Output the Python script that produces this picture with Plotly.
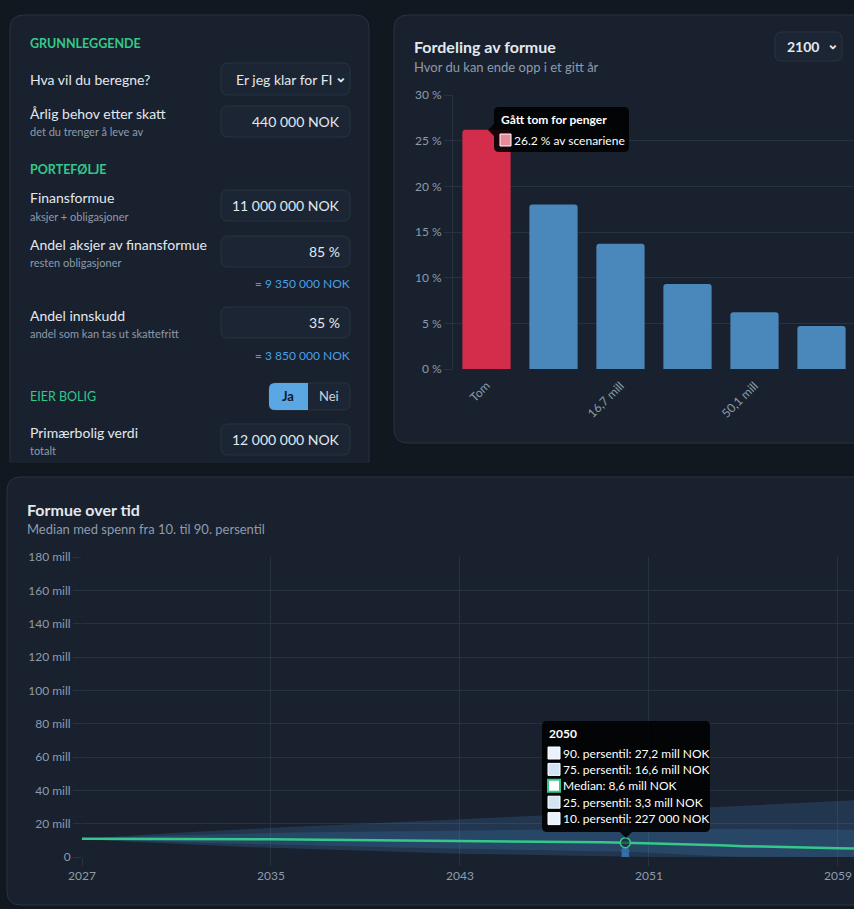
import plotly.graph_objects as go

W, H = 854, 909

# ---- data: wealth distribution (top-right) ----
bins = ["Tom", "0,0 mill", "16,7 mill", "33,4 mill", "50,1 mill", "66,8 mill"]
shares = [26.2, 18.0, 13.7, 9.3, 6.2, 4.7]
bin_ticks = ["Tom", "16,7 mill", "50,1 mill"]
pct_ticks = [0, 5, 10, 15, 20, 25, 30]

# ---- data: wealth over time (bottom), mill NOK ----
years = list(range(2027, 2061))
p90 = [11.0, 12.0, 12.9, 13.7, 14.5, 15.3, 16.0, 16.7, 17.6, 18.2, 18.8, 19.4, 20.0, 20.6, 21.2,
       21.8, 22.5, 23.2, 23.9, 24.6, 25.3, 26.0, 26.6, 27.2, 27.9, 28.6, 29.3, 30.0, 30.7, 31.4,
       32.1, 32.8, 33.5, 34.2]
p75 = [11.0, 11.6, 12.1, 12.6, 13.0, 13.4, 13.8, 14.1, 14.4, 14.7, 14.9, 15.1, 15.3, 15.5, 15.7,
       15.9, 16.0, 16.1, 16.2, 16.3, 16.4, 16.5, 16.55, 16.6, 16.7, 16.8, 16.9, 16.9, 16.8, 16.7,
       16.6, 16.5, 16.4, 16.3]
p50 = [11.0, 11.0, 11.0, 10.9, 10.9, 10.8, 10.8, 10.7, 10.6, 10.5, 10.4, 10.3, 10.2, 10.1, 10.0,
       9.8, 9.7, 9.5, 9.4, 9.2, 9.1, 8.9, 8.8, 8.6, 8.3, 7.9, 7.4, 7.0, 6.5, 6.1, 5.8, 5.5, 5.3, 5.1]
p25 = [11.0, 10.4, 9.9, 9.4, 9.0, 8.6, 8.2, 7.8, 7.4, 7.0, 6.7, 6.4, 6.1, 5.8, 5.5, 5.2, 4.9,
       4.6, 4.4, 4.1, 3.9, 3.7, 3.5, 3.3, 2.5, 1.7, 1.0, 0.5, 0.2, 0.0, 0.0, 0.0, 0.0, 0.0]
p10 = [11.0, 10.0, 9.2, 8.5, 7.8, 7.2, 6.6, 6.0, 5.5, 5.0, 4.5, 4.0, 3.6, 3.2, 2.8, 2.4, 2.0,
       1.7, 1.4, 1.1, 0.8, 0.6, 0.4, 0.227, 0.0, 0.0, 0.0, 0.0, 0.0, 0.0, 0.0, 0.0, 0.0, 0.0]
year_ticks = [2027, 2035, 2043, 2051, 2059]
mill_ticks = [0, 20, 40, 60, 80, 100, 120, 140, 160, 180]
hover_year = 2050

FONT = "Segoe UI, Lato, sans-serif"
PAGE = "#111820"
PANEL = "#18212d"
BORDER = "#283443"
INPUT = "#1b2533"
GRID = "#263240"
TXT = "#e3e8ef"
SUB = "#8e9bad"
GREEN = "#34c98a"
BLUE_TXT = "#4a9fe8"
RED = "#d32d4b"
BLUE = "#4a88bb"


def px(x):
    return x / W


def py(y):
    return 1 - y / H


def rrect(x0, y0, x1, y1, r, flat_bottom=False):
    pts = lambda x, y: f"{px(x):.5f},{py(y):.5f}"
    p = f"M {pts(x0 + r, y0)} L {pts(x1 - r, y0)} Q {pts(x1, y0)} {pts(x1, y0 + r)} "
    if flat_bottom:
        p += f"L {pts(x1, y1)} L {pts(x0, y1)} "
    else:
        p += (f"L {pts(x1, y1 - r)} Q {pts(x1, y1)} {pts(x1 - r, y1)} "
              f"L {pts(x0 + r, y1)} Q {pts(x0, y1)} {pts(x0, y1 - r)} ")
    p += f"L {pts(x0, y0 + r)} Q {pts(x0, y0)} {pts(x0 + r, y0)} Z"
    return p


shapes = []
annos = []


def box(x0, y0, x1, y1, r, fill, line=None, flat_bottom=False, layer="below", lw=1):
    shapes.append(dict(type="path", xref="paper", yref="paper", path=rrect(x0, y0, x1, y1, r, flat_bottom),
                       fillcolor=fill, line=dict(color=line or fill, width=lw if line else 0), layer=layer))


def txt(x, y, s, size=14, color=TXT, anchor="left", bold=False):
    if bold:
        s = f"<b>{s}</b>"
    annos.append(dict(x=px(x), y=py(y), xref="paper", yref="paper", text=s, showarrow=False,
                      xanchor=anchor, yanchor="middle", borderpad=0,
                      font=dict(family=FONT, size=size, color=color)))


# ---- panels ----
box(10, 15, 369, 462, 14, PANEL, BORDER, flat_bottom=True)
# hide the bottom border line of the clipped form panel
shapes.append(dict(type="rect", xref="paper", yref="paper", x0=px(11), x1=px(368), y0=py(463), y1=py(461),
                   fillcolor=PANEL, line=dict(width=0)))
box(394, 15, 880, 443, 14, PANEL, BORDER)
box(7, 477, 880, 905, 14, PANEL, BORDER)

# ---- left form panel ----
txt(29, 44, "GRUNNLEGGENDE", 12.5, GREEN, bold=True)
txt(29, 79, "Hva vil du beregne?", 14)
box(221, 63, 350, 95, 7, INPUT, BORDER)
txt(235, 79, "Er jeg klar for FI", 14)
shapes.append(dict(type="rect", xref="paper", yref="paper", x0=px(326), x1=px(336), y0=py(66), y1=py(92),
                   fillcolor=INPUT, line=dict(width=0)))
txt(341, 77, "⌄", 14, TXT, anchor="center", bold=True)

fields = [
    ("Årlig behov etter skatt", "det du trenger å leve av", "440 000 NOK", 106, None),
    ("Finansformue", "aksjer + obligasjoner", "11 000 000 NOK", 190, None),
    ("Andel aksjer av finansformue", "resten obligasjoner", "85 %", 236, "= 9 350 000 NOK"),
    ("Andel innskudd", "andel som kan tas ut skattefritt", "35 %", 307, "= 3 850 000 NOK"),
    ("Primærbolig verdi", "totalt", "12 000 000 NOK", 424, None),
]
for label, hint, value, top, extra in fields:
    txt(29, top + 8, label, 14)
    txt(29, top + 26, hint, 11, SUB)
    box(221, top, 350, top + 31, 7, INPUT, BORDER)
    txt(341, top + 15.5, value, 14, TXT, anchor="right")
    if extra:
        txt(351, top + 48, extra, 12, BLUE_TXT, anchor="right")

txt(29, 169, "PORTEFØLJE", 12.5, GREEN, bold=True)
txt(29, 397, "EIER BOLIG", 12.5, GREEN)
box(269, 383, 350, 410, 6, INPUT, BORDER)
box(269, 383, 308, 410, 6, "#5aa7e4")
shapes.append(dict(type="rect", xref="paper", yref="paper", x0=px(300), x1=px(308), y0=py(383), y1=py(410),
                   fillcolor="#5aa7e4", line=dict(width=0)))
txt(288, 396, "Ja", 13, "#0f1a26", anchor="center", bold=True)
txt(329, 396, "Nei", 13, "#c9d2dd", anchor="center")

# ---- top-right panel header ----
txt(413, 46, "Fordeling av formue", 16, TXT, bold=True)
txt(413, 67, "Hvor du kan ende opp i et gitt år", 13, SUB)
box(775, 32, 842, 61, 7, INPUT, BORDER)
txt(803, 46, "2100", 14, TXT, anchor="center", bold=True)
txt(833, 44, "⌄", 14, TXT, anchor="center", bold=True)

# bar tooltip
box(494, 107, 629, 152, 5, "rgba(0,0,0,0.88)", layer="above")
shapes.append(dict(type="path", xref="paper", yref="paper", layer="above",
                   path=f"M {px(494)},{py(124)} L {px(488)},{py(130)} L {px(494)},{py(136)} Z",
                   fillcolor="rgba(0,0,0,0.88)", line=dict(width=0)))
shapes.append(dict(type="rect", xref="paper", yref="paper", layer="above", x0=px(500), x1=px(511),
                   y0=py(134), y1=py(146), fillcolor="#e8899c", line=dict(color="#ffffff", width=1)))
txt(500, 119, "Gått tom for penger", 12, "#ffffff", bold=True)
txt(513, 140, f"{shares[0]} % av scenariene", 12, "#ffffff")

# ---- bottom panel header ----
txt(26, 509, "Formue over tid", 16, TXT, bold=True)
txt(26, 529, "Median med spenn fra 10. til 90. persentil", 13, SUB)

# line tooltip
box(542, 721, 710, 832, 5, "rgba(0,0,0,0.88)", layer="above")
shapes.append(dict(type="path", xref="paper", yref="paper", layer="above",
                   path=f"M {px(620)},{py(832)} L {px(626)},{py(838)} L {px(632)},{py(832)} Z",
                   fillcolor="rgba(0,0,0,0.88)", line=dict(width=0)))
hi = years.index(hover_year)


def mill(v):
    if v < 1:
        return f"{int(round(v * 1000)):,} 000 NOK".replace(",", " ")
    return f"{v:.1f}".replace(".", ",") + " mill NOK"


rows = [("90. persentil", p90[hi], "#e9f1fb", "#ffffff"),
        ("75. persentil", p75[hi], "#d3e3f4", "#ffffff"),
        ("Median", p50[hi], "#ffffff", GREEN),
        ("25. persentil", p25[hi], "#d3e3f4", "#ffffff"),
        ("10. persentil", p10[hi], "#e9f1fb", "#ffffff")]
txt(548, 733, str(hover_year), 12, "#ffffff", bold=True)
for i, (name, v, fc, lc) in enumerate(rows):
    yc = 753 + i * 16.4
    shapes.append(dict(type="rect", xref="paper", yref="paper", layer="above", x0=px(548), x1=px(560),
                       y0=py(yc - 6), y1=py(yc + 6), fillcolor=fc,
                       line=dict(color=lc, width=2 if name == "Median" else 1)))
    txt(562, yc, f"{name}: {mill(v)}", 12, "#ffffff")

# ---- traces ----
fig = go.Figure()
fig.add_trace(go.Bar(x=bins, y=shares, xaxis="x", yaxis="y",
                     marker=dict(color=[RED if b == "Tom" else BLUE for b in bins], cornerradius=3,
                                 line=dict(width=0))))

band_outer = "rgba(74,144,217,0.20)"
band_inner = "rgba(74,144,217,0.18)"
fig.add_trace(go.Scatter(x=years, y=p10, xaxis="x2", yaxis="y2", mode="lines", line=dict(width=0)))
fig.add_trace(go.Scatter(x=years, y=p90, xaxis="x2", yaxis="y2", mode="lines", line=dict(width=0),
                         fill="tonexty", fillcolor=band_outer))
fig.add_trace(go.Scatter(x=years, y=p25, xaxis="x2", yaxis="y2", mode="lines", line=dict(width=0)))
fig.add_trace(go.Scatter(x=years, y=p75, xaxis="x2", yaxis="y2", mode="lines", line=dict(width=0),
                         fill="tonexty", fillcolor=band_inner))
fig.add_trace(go.Scatter(x=years, y=p50, xaxis="x2", yaxis="y2", mode="lines",
                         line=dict(color=GREEN, width=2.5)))
fig.add_trace(go.Scatter(x=[hover_year] * 4, y=[p90[hi], p75[hi], p25[hi], p10[hi]], xaxis="x2", yaxis="y2",
                         mode="markers", marker=dict(size=8, color="rgba(55,115,180,0.85)")))
fig.add_trace(go.Scatter(x=[hover_year], y=[p50[hi]], xaxis="x2", yaxis="y2", mode="markers",
                         marker=dict(size=10, color="rgba(24,33,45,0.6)", line=dict(color=GREEN, width=1.5))))

tickfont = dict(family=FONT, size=12, color=SUB)
fig.update_layout(
    width=W, height=H, margin=dict(l=0, r=0, t=0, b=0, pad=0), autosize=False,
    paper_bgcolor=PAGE, plot_bgcolor="rgba(0,0,0,0)",
    showlegend=False, hovermode=False, bargap=0.28,
    shapes=shapes, annotations=annos,
    xaxis=dict(domain=[px(453), 1.0], range=[-0.5, 5.485], type="category", tickvals=bin_ticks,
               tickangle=-45, tickfont=tickfont, showgrid=False, zeroline=False, showline=False,
               ticks="outside", ticklen=4, tickcolor="rgba(0,0,0,0)", anchor="y", fixedrange=True,
               automargin=False),
    yaxis=dict(domain=[py(369), py(95)], range=[0, 30], tickvals=pct_ticks,
               ticktext=[f"{t} %" for t in pct_ticks], tickfont=tickfont, gridcolor=GRID, zeroline=False,
               showline=True, linecolor=GRID, ticks="outside", ticklen=8, tickcolor=GRID, anchor="x",
               fixedrange=True, automargin=False),
    xaxis2=dict(domain=[px(82), 1.0], range=[2027, 2059.68], tickvals=year_ticks, tickfont=tickfont,
                gridcolor=GRID, zeroline=False, showline=False, ticks="outside", ticklen=8, tickcolor=GRID,
                anchor="y2", fixedrange=True, automargin=False),
    yaxis2=dict(domain=[py(857), py(557)], range=[0, 180], tickvals=mill_ticks,
                ticktext=["0" if t == 0 else f"{t} mill" for t in mill_ticks], tickfont=tickfont,
                gridcolor=GRID, zeroline=False, showline=False, ticks="outside", ticklen=8, tickcolor=GRID,
                anchor="x2", fixedrange=True, automargin=False),
)

fig.write_html("out.html", config=dict(displayModeBar=False),
               post_script="document.body.style.margin='0';document.body.style.overflow='hidden';")
